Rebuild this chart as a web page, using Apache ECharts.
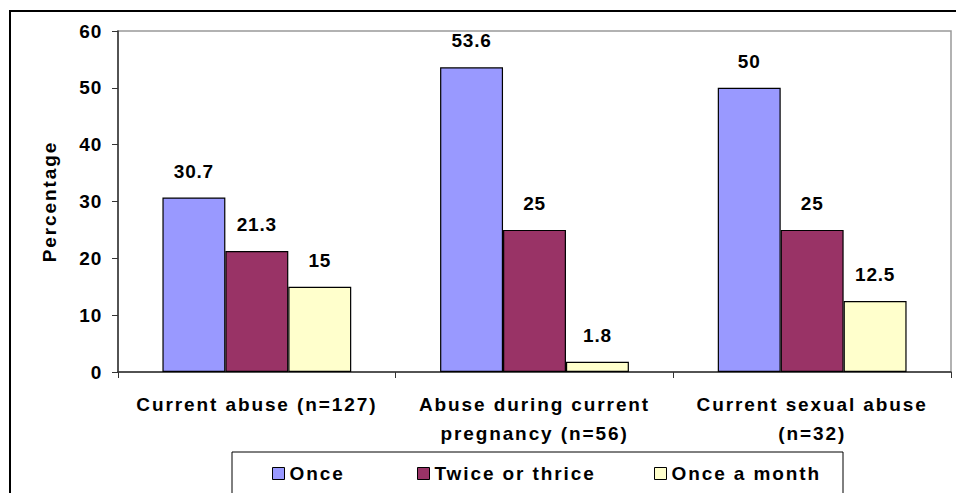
<!DOCTYPE html>
<html><head><meta charset="utf-8">
<script src="https://cdn.jsdelivr.net/npm/echarts@6/dist/echarts.min.js"></script>
<style>html,body{margin:0;padding:0;background:#fff}#c{width:956px;height:493px}</style>
</head><body><div id="c"></div>
<script>
var categories = ['Current abuse (n=127)', 'Abuse during current\npregnancy (n=56)', 'Current sexual abuse\n(n=32)'];
var seriesNames = ['Once', 'Twice or thrice', 'Once a month'];
var onceValues = [30.7, 53.6, 50];
var twiceValues = [21.3, 25, 25];
var monthValues = [15, 1.8, 12.5];
var yTicks = [0, 10, 20, 30, 40, 50, 60];
var colors = ['#9999FF', '#993366', '#FFFFCC'];

var chart = echarts.init(document.getElementById('c'), null, {renderer: 'svg'});
var font = 'Liberation Sans, Arial, sans-serif';
var txt = {color: '#000', fontWeight: 'bold', fontSize: 19, fontFamily: font};
function mk(name, data, color) {
  return {
    name: name, type: 'bar', data: data, barGap: '0%', barCategoryGap: '32%',
    itemStyle: {color: color, borderColor: '#000', borderWidth: 1.2},
    label: Object.assign({show: true, position: 'top', distance: 17}, txt),
    emphasis: {disabled: true}, animation: false
  };
}
function lg(i, left) {
  return {
    data: [seriesNames[i]], left: left, top: 459, itemWidth: 12, itemHeight: 12,
    icon: 'rect', itemStyle: {borderColor: '#000', borderWidth: 1},
    textStyle: Object.assign({padding: [0, 0, 0, 0]}, txt),
    selectedMode: false
  };
}
chart.setOption({
  animation: false,
  backgroundColor: '#fff',
  grid: {left: 118, right: 5, top: 31, bottom: 121, show: true, borderColor: '#999', borderWidth: 1.5, backgroundColor: 'transparent'},
  xAxis: {
    type: 'category', data: categories,
    axisLine: {lineStyle: {color: '#333', width: 1.5}},
    axisTick: {show: true, length: 6, lineStyle: {color: '#333'}},
    axisLabel: Object.assign({lineHeight: 29, margin: 18, interval: 0}, txt)
  },
  yAxis: {
    type: 'value', min: yTicks[0], max: yTicks[yTicks.length - 1], interval: 10,
    name: 'Percentage', nameLocation: 'middle', nameGap: 59, nameRotate: 90,
    nameTextStyle: txt,
    axisLine: {show: true, lineStyle: {color: '#333', width: 1.5}},
    axisTick: {show: true, length: 6, lineStyle: {color: '#333'}},
    splitLine: {show: false},
    axisLabel: Object.assign({margin: 16}, txt)
  },
  legend: [lg(0, 267), lg(1, 412), lg(2, 649)],
  graphic: [
    {type: 'rect', shape: {x: 10, y: 11, width: 980, height: 520}, style: {fill: 'none', stroke: '#000', lineWidth: 2}, z: 100},
    {type: 'rect', shape: {x: 232, y: 452, width: 611, height: 80}, style: {fill: 'none', stroke: '#000', lineWidth: 1}, z: 100}
  ],
  series: [mk(seriesNames[0], onceValues, colors[0]), mk(seriesNames[1], twiceValues, colors[1]), mk(seriesNames[2], monthValues, colors[2])]
});
function spacing() {
  var ts = document.querySelectorAll('#c svg text');
  for (var i = 0; i < ts.length; i++) {
    var t = ts[i].textContent;
    ts[i].style.letterSpacing = /^[\d.]+$/.test(t) ? '0.8px' : '1.9px';
  }
}
spacing();
chart.on('finished', spacing);
setTimeout(spacing, 0);
</script></body></html>
